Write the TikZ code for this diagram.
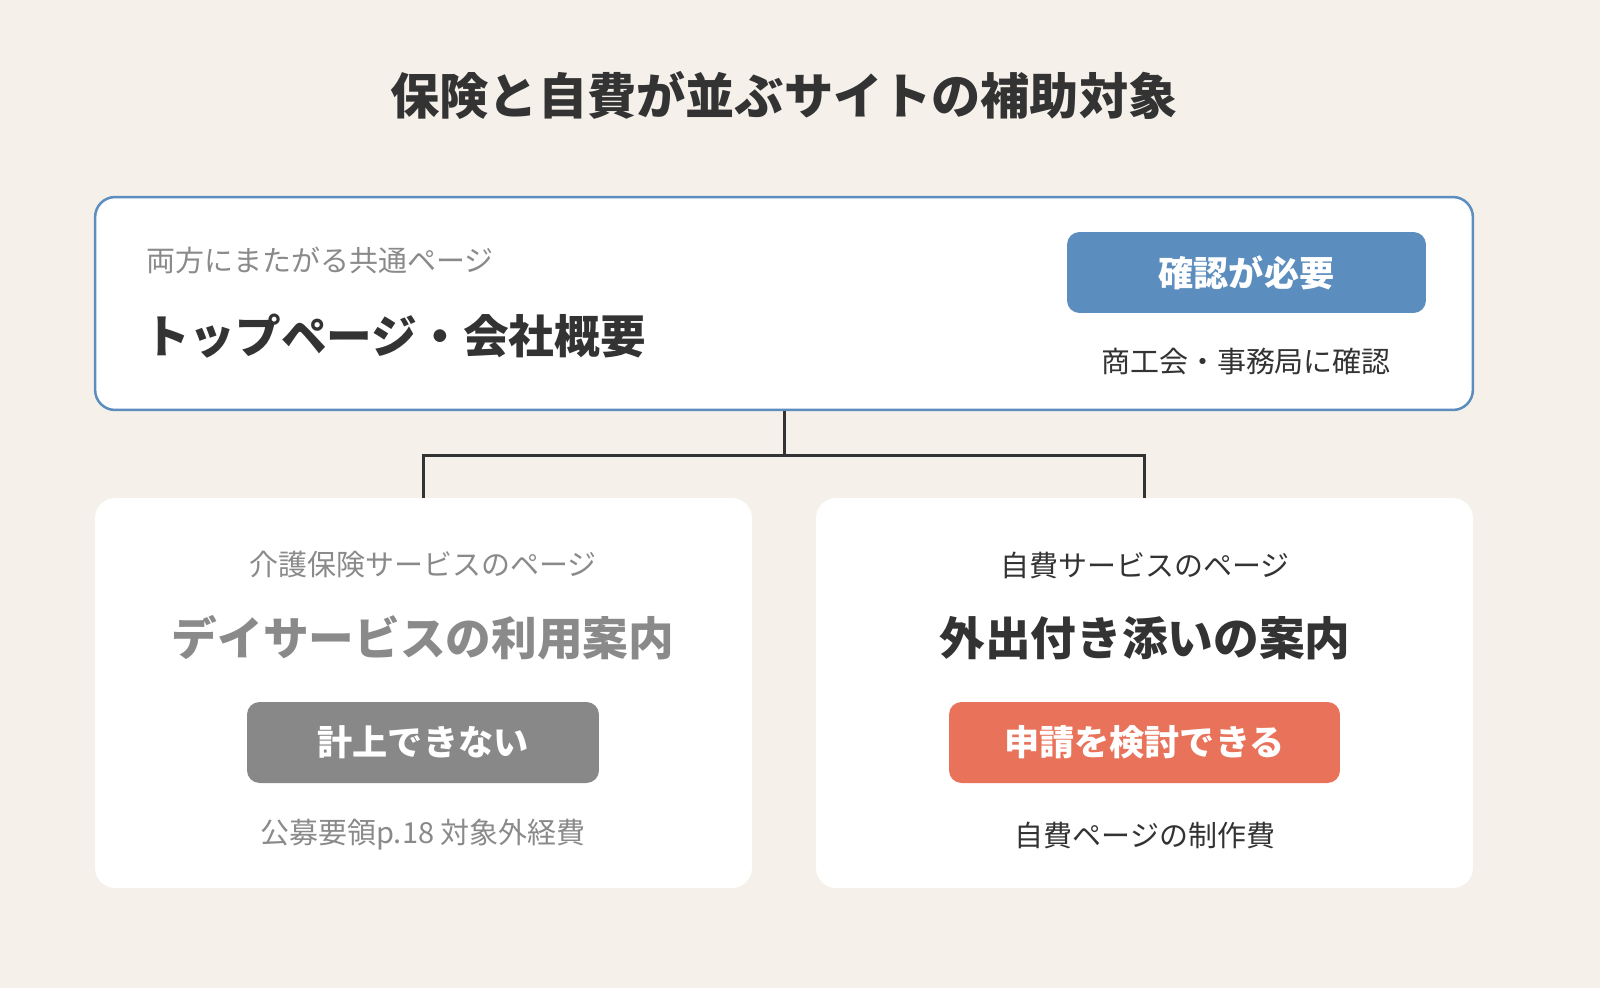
\documentclass[tikz,border=0pt]{standalone}
\usepackage{fontspec}
\setmainfont{Noto Sans CJK JP}
\usetikzlibrary{positioning}
\definecolor{bgcol}{HTML}{F5F0EA}
\definecolor{bluecol}{HTML}{5B8DBE}
\definecolor{graycol}{HTML}{888888}
\definecolor{redcol}{HTML}{E8735A}
\definecolor{inkcol}{HTML}{333333}
\definecolor{subcol}{HTML}{8A8A8A}
\tikzset{
	panel/.style={fill=white, rounded corners=0.4cm, inner sep=0pt},
	badge/.style={rounded corners=0.25cm, text=white, font=\fontsize{20}{24}\selectfont\bfseries, minimum height=1.62cm, inner sep=0pt},
	small/.style={font=\fontsize{16.5}{20}\selectfont},
	big/.style={font=\fontsize{26}{30}\selectfont\bfseries},
	link/.style={draw=inkcol, line width=0.06cm}
}
\begin{document}
\begin{tikzpicture}[x=0.02cm, y=-0.02cm]
	\fill[bgcol] (0,0) rectangle (1600,988);
	\useasboundingbox (0,0) rectangle (1600,988);
	
	\node (title) [text=inkcol, font=\fontsize{28}{32}\selectfont\bfseries] at (784,95) {保険と自費が並ぶサイトの補助対象};
	
	% common page
	\node (top) [panel, draw=bluecol, line width=0.05cm, minimum width=27.56cm, minimum height=4.26cm] at (784,303.5) {};
	\node (topsub) [small, text=subcol, anchor=west] at (140,260) {両方にまたがる共通ページ};
	\node (toptitle) [big, text=inkcol, anchor=west] at (138,336) {トップページ・会社概要};
	\node (check) [badge, fill=bluecol, minimum width=7.18cm] at (1246.5,272.5) {確認が必要};
	\node (checknote) [small, text=inkcol] at (1246,362) {商工会・事務局に確認};
	
	% two pages
	\node (care) [panel, minimum width=13.14cm, minimum height=7.8cm] at (423.5,693) {};
	\node (self) [panel, minimum width=13.14cm, minimum height=7.8cm] at (1144.5,693) {};
	
	\node (caresub) [small, text=subcol] at (423,565) {介護保険サービスのページ};
	\node (caretitle) [big, text=subcol] at (423,638) {デイサービスの利用案内};
	\node (carebadge) [badge, fill=graycol, minimum width=7.04cm] at (423,742.5) {計上できない};
	\node (carenote) [small, text=subcol] at (423,835) {公募要領p.18 対象外経費};
	
	\node (selfsub) [small, text=inkcol] at (1145,565) {自費サービスのページ};
	\node (selftitle) [big, text=inkcol] at (1145,638) {外出付き添いの案内};
	\node (selfbadge) [badge, fill=redcol, minimum width=7.82cm] at (1144.5,742.5) {申請を検討できる};
	\node (selfnote) [small, text=inkcol] at (1145,835) {自費ページの制作費};
	
	\coordinate (split) at (784,455);
	\draw[link] (top.south) -- (split);
	\draw[link] (split) -| (care.north);
	\draw[link] (split) -| (self.north);
\end{tikzpicture}
\end{document}
